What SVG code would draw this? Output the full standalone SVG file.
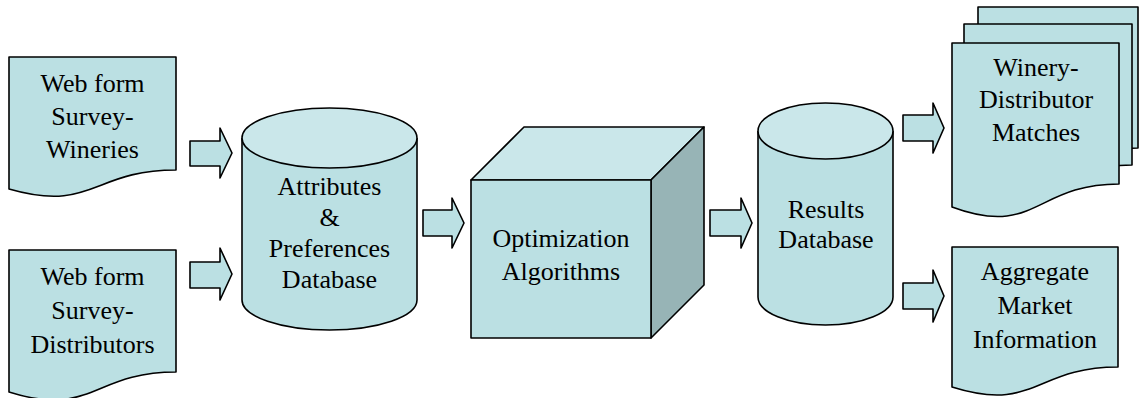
<svg xmlns="http://www.w3.org/2000/svg" width="1139" height="398" viewBox="0 0 1139 398">
<defs>
<style>
.s{fill:#BBE0E3;stroke:#000;stroke-width:1.6;stroke-linejoin:round}
.lt{fill:#CAE7EA;stroke:#000;stroke-width:1.6;stroke-linejoin:round}
.dk{fill:#97B4B6;stroke:#000;stroke-width:1.6;stroke-linejoin:round}
.t{font-family:'Liberation Serif','Times New Roman',Times,serif;font-size:26px;fill:#000;text-anchor:middle}
</style>
</defs>
<rect width="1139" height="398" fill="#fff"/>
<g id="doc-wineries">
<path class="s" d="M9,57 H176 V170 C92.5,170 92.5,213 9,189 Z"/>
<text class="t" font-family="Liberation Serif" x="92.5" y="92">Web form</text>
<text class="t" font-family="Liberation Serif" x="92.5" y="125">Survey-</text>
<text class="t" font-family="Liberation Serif" x="92.5" y="158">Wineries</text>
</g>
<g id="doc-distributors">
<path class="s" d="M9,250 H176 V372 C92.5,372 92.5,418 9,392 Z"/>
<text class="t" font-family="Liberation Serif" x="92.5" y="285">Web form</text>
<text class="t" font-family="Liberation Serif" x="92.5" y="319">Survey-</text>
<text class="t" font-family="Liberation Serif" x="92.5" y="353">Distributors</text>
</g>
<g id="db-attributes">
<path class="s" d="M242,138 V300 A87.5,30 0 0 0 417,300 V138"/>
<ellipse class="lt" cx="329.5" cy="138" rx="87.5" ry="30"/>
<text class="t" font-family="Liberation Serif" x="329.5" y="195">Attributes</text>
<text class="t" font-family="Liberation Serif" x="329.5" y="226">&amp;</text>
<text class="t" font-family="Liberation Serif" x="329.5" y="257">Preferences</text>
<text class="t" font-family="Liberation Serif" x="329.5" y="288">Database</text>
</g>
<g id="optimization">
<polygon class="lt" points="471,180 524,127 704,127 651,180"/>
<polygon class="dk" points="651,180 704,127 704,285 651,338"/>
<rect class="s" x="471" y="180" width="180" height="158"/>
<text class="t" font-family="Liberation Serif" x="561" y="247">Optimization</text>
<text class="t" font-family="Liberation Serif" x="561" y="280">Algorithms</text>
</g>
<g id="db-results">
<path class="s" d="M758,131 V297 A67.5,28 0 0 0 893,297 V131"/>
<ellipse class="lt" cx="825.5" cy="131" rx="67.5" ry="28"/>
<text class="t" font-family="Liberation Serif" x="826" y="218">Results</text>
<text class="t" font-family="Liberation Serif" x="826" y="248">Database</text>
</g>
<g id="matches">
<path class="s" d="M978,7 H1138 V148 C1058,148 1058,202 978,183 Z"/>
<path class="s" d="M964,24 H1132 V165 C1048,165 1048,219 964,200 Z"/>
<path class="s" d="M952,43 H1119 V184 C1035.5,184 1035.5,238 952,207 Z"/>
<text class="t" font-family="Liberation Serif" x="1036" y="76">Winery-</text>
<text class="t" font-family="Liberation Serif" x="1036" y="108">Distributor</text>
<text class="t" font-family="Liberation Serif" x="1036" y="141">Matches</text>
</g>
<g id="aggregate">
<path class="s" d="M952,247 H1118 V367 C1035,367 1035,413 952,387 Z"/>
<text class="t" font-family="Liberation Serif" x="1035" y="280">Aggregate</text>
<text class="t" font-family="Liberation Serif" x="1035" y="314">Market</text>
<text class="t" font-family="Liberation Serif" x="1035" y="348">Information</text>
</g>
<g id="connectors">
<polygon class="s" points="190,141 220,141 220,128 232,153 220,178 220,166 190,166"/>
<polygon class="s" points="190,262 220,262 220,248 232,274 220,300 220,288 190,288"/>
<polygon class="s" points="423,210 452,210 452,198 464,223 452,248 452,236 423,236"/>
<polygon class="s" points="710,210 741,210 741,198 752,223 741,248 741,236 710,236"/>
<polygon class="s" points="903,115 933,115 933,103 944,128 933,153 933,141 903,141"/>
<polygon class="s" points="903,283 933,283 933,270 944,296 933,322 933,309 903,309"/>
</g>
</svg>
